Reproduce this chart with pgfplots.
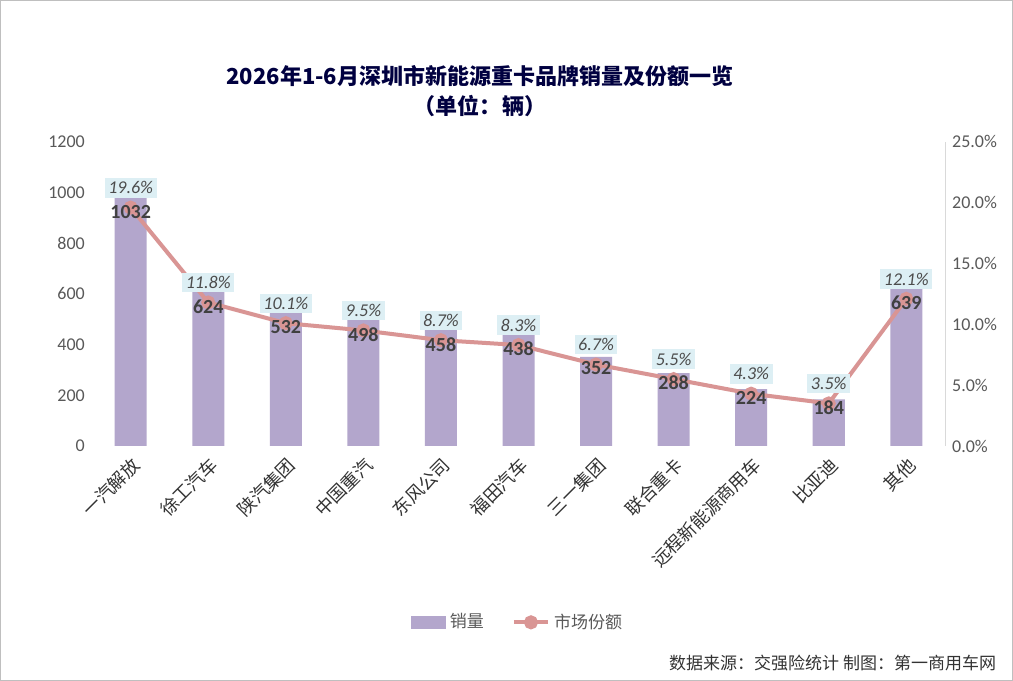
\documentclass[border=0pt]{standalone}
\usepackage{pgfplots}
\pgfplotsset{compat=1.18}
\usepackage{pgfplotstable}
\usepackage{fontspec}
\setmainfont{Noto Sans CJK SC}
\newfontfamily\calfont{Carlito}
\definecolor{barc}{HTML}{B3A6CC}
\definecolor{linec}{HTML}{D99594}
\definecolor{tick}{HTML}{595959}
\definecolor{boxc}{HTML}{DDEFF4}
\pgfplotstableread{
x share val
0 19.6 1032
1 11.8 624
2 10.1 532
3 9.5 498
4 8.7 458
5 8.3 438
6 6.7 352
7 5.5 288
8 4.3 224
9 3.5 184
10 12.1 639
}\data
\begin{document}
\begin{tikzpicture}
\draw[draw=gray!50,fill=white] (0.25pt,0.25pt) rectangle (506.25pt,340.25pt);
\node[font=\bfseries\fontsize{11}{15}\selectfont,text=black!75!blue,align=center] at (240pt,295pt) {2026年1-6月深圳市新能源重卡品牌销量及份额一览\\（单位：辆）};
\begin{axis}[at={(46pt,117.5pt)},anchor=south west,scale only axis,width=426.5pt,height=152pt,
 xmin=-0.5,xmax=10.5,ymin=0,ymax=1200,ytick={0,200,...,1200},
 axis y line*=left,axis x line*=bottom,axis line style={draw=none},
 xtick=data,xticklabels={一汽解放,徐工汽车,陕汽集团,中国重汽,东风公司,福田汽车,三一集团,联合重卡,远程新能源商用车,比亚迪,其他},
 x tick label style={rotate=45,anchor=north east,font=\fontsize{9}{10}\selectfont,text=black!80},
 y tick label style={font=\calfont\fontsize{9}{10}\selectfont,text=tick},
 /pgf/number format/assume math mode=true,/pgf/number format/1000 sep={},
 major tick length=0pt]
\addplot[ybar,bar width=16pt,fill=barc,draw=none] table[x=x,y=val]{\data};
\end{axis}
\begin{axis}[at={(46pt,117.5pt)},anchor=south west,scale only axis,width=426.5pt,height=152pt,
 xmin=-0.5,xmax=10.5,ymin=0,ymax=25,ytick={0,5,...,25},
 axis y line*=right,axis x line=none,axis line style={draw=gray!30},
 yticklabel={\pgfmathprintnumber[fixed,fixed zerofill,precision=1]{\tick}\%},
 y tick label style={font=\calfont\fontsize{9}{10}\selectfont,text=tick},
 /pgf/number format/assume math mode=true,
 major tick length=0pt,clip=false,
 legend style={at={(0.5,-0.58)},anchor=center,draw=none,legend columns=2,font=\fontsize{8.5}{10}\selectfont,text=tick,/tikz/every even column/.append style={column sep=12pt}},
 legend cell align=left]
\addlegendimage{area legend,fill=barc,draw=barc}
\addlegendentry{销量}
\addplot[linec,line width=2pt,mark=*,mark size=2.5pt,mark options={fill=linec},
 nodes near coords={\pgfmathprintnumber[fixed,fixed zerofill,precision=1]{\pgfplotspointmeta}\%},
 every node near coord/.append style={font=\calfont\itshape\fontsize{9}{10}\selectfont,text=black!70,fill=boxc,inner sep=1.8pt,anchor=south,yshift=4pt}]
 table[x=x,y=share]{\data};
\addlegendentry{市场份额}
\addplot[draw=none,mark=none,point meta=explicit symbolic,nodes near coords,
 every node near coord/.append style={font=\calfont\bfseries\fontsize{10}{10}\selectfont,text=black!75,anchor=center,yshift=-2pt}]
 table[x=x,y=share,meta=val]{\data};
\end{axis}
\node[anchor=east,font=\fontsize{8.5}{10}\selectfont,text=black!80] at (501.5pt,9pt) {数据来源：交强险统计 制图：第一商用车网};
\end{tikzpicture}
\end{document}
